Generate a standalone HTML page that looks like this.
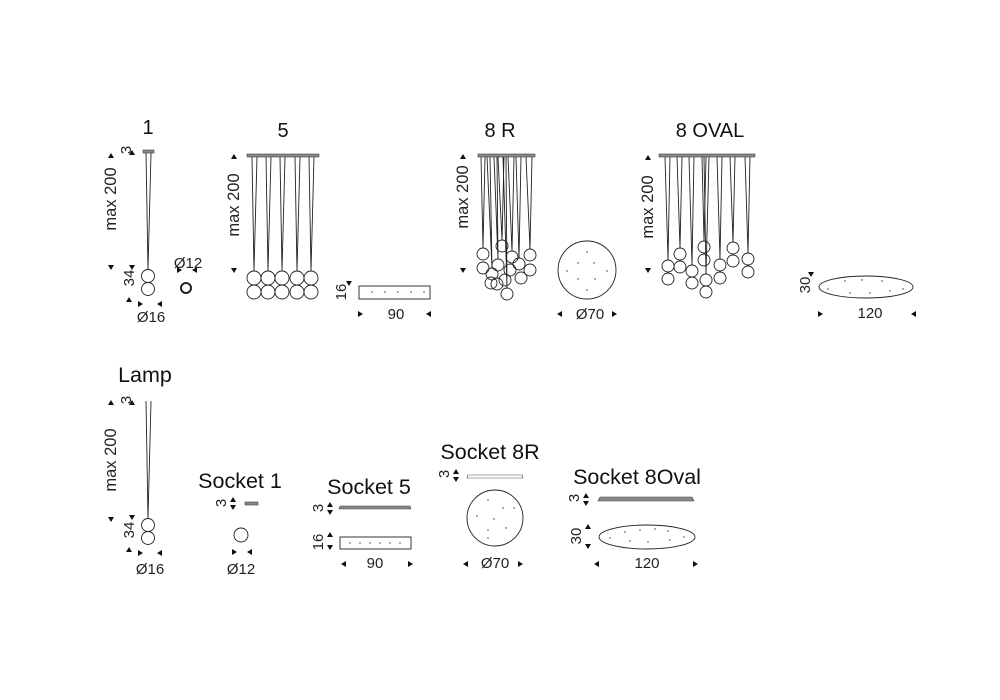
<!DOCTYPE html>
<html><head><meta charset="utf-8"><style>
html,body{margin:0;padding:0;background:#fff;}
svg{display:block;font-family:"Liberation Sans",sans-serif;}
</style></head><body>
<svg width="1000" height="700" viewBox="0 0 1000 700" xmlns="http://www.w3.org/2000/svg">
<rect width="1000" height="700" fill="#fff"/>
<g fill="#111" font-size="20" text-anchor="middle">
<text x="148" y="134">1</text>
<text x="283" y="137">5</text>
<text x="500" y="137">8 R</text>
<text x="710" y="137">8 OVAL</text>
</g>
<g fill="#111" font-size="21.5" text-anchor="middle">
<text x="145" y="382">Lamp</text>
<text x="240" y="488">Socket 1</text>
<text x="369" y="494">Socket 5</text>
<text x="490" y="459">Socket 8R</text>
<text x="637" y="484">Socket 8Oval</text>
</g>
<g fill="#222" font-size="16.5" text-anchor="middle">
<text transform="translate(116,199) rotate(-90)">max 200</text>
<text transform="translate(239,205) rotate(-90)">max 200</text>
<text transform="translate(468,197) rotate(-90)">max 200</text>
<text transform="translate(653,207) rotate(-90)">max 200</text>
<text transform="translate(116,460) rotate(-90)">max 200</text>
</g>
<g fill="#222" font-size="15" text-anchor="middle">
<text transform="translate(131,150) rotate(-90)">3</text>
<text transform="translate(134,278) rotate(-90)">34</text>
<text transform="translate(131,400) rotate(-90)">3</text>
<text transform="translate(134,530) rotate(-90)">34</text>
<text transform="translate(346,292) rotate(-90)">16</text>
<text transform="translate(810,285) rotate(-90)">30</text>
<text transform="translate(226,503) rotate(-90)">3</text>
<text transform="translate(323,508) rotate(-90)">3</text>
<text transform="translate(323,542) rotate(-90)">16</text>
<text transform="translate(449,474) rotate(-90)">3</text>
<text transform="translate(579,498) rotate(-90)">3</text>
<text transform="translate(581,536) rotate(-90)">30</text>
<text x="151" y="322">Ø16</text>
<text x="188" y="268">Ø12</text>
<text x="396" y="319">90</text>
<text x="590" y="319">Ø70</text>
<text x="870" y="318">120</text>
<text x="150" y="574">Ø16</text>
<text x="241" y="574">Ø12</text>
<text x="375" y="568">90</text>
<text x="495" y="568">Ø70</text>
<text x="647" y="568">120</text>
</g>
<!-- arrows -->
<g fill="#111">
<path d="M108,158 l3,-5 l3,5z M108,265 l3,5 l3,-5z"/>
<path d="M231,159 l3,-5 l3,5z M231,268 l3,5 l3,-5z"/>
<path d="M460,159 l3,-5 l3,5z M460,268 l3,5 l3,-5z"/>
<path d="M645,160 l3,-5 l3,5z M645,268 l3,5 l3,-5z"/>
<path d="M108,405 l3,-5 l3,5z M108,517 l3,5 l3,-5z"/>
<path d="M129,155 l3,-5 l3,5z M129,265 l3,5 l3,-5z M126,302 l3,-5 l3,5z"/>
<path d="M129,405 l3,-5 l3,5z M129,515 l3,5 l3,-5z M126,552 l3,-5 l3,5z"/>
<path d="M138,301 l5,3 l-5,3z M162,301 l-5,3 l5,3z M138,550 l5,3 l-5,3z M162,550 l-5,3 l5,3z"/>
<path d="M177,267 l5,3 l-5,3z M197,267 l-5,3 l5,3z M232,549 l5,3 l-5,3z M252,549 l-5,3 l5,3z"/>
<path d="M358,311 l5,3 l-5,3z M431,311 l-5,3 l5,3z M346,281 l3,5 l3,-5z"/>
<path d="M562,311 l-5,3 l5,3z M612,311 l5,3 l-5,3z M468,561 l-5,3 l5,3z M518,561 l5,3 l-5,3z"/>
<path d="M818,311 l5,3 l-5,3z M916,311 l-5,3 l5,3z M808,272 l3,5 l3,-5z"/>
<path d="M346,561 l-5,3 l5,3z M408,561 l5,3 l-5,3z M599,561 l-5,3 l5,3z M693,561 l5,3 l-5,3z"/>
<path d="M230,502 l3,-5 l3,5z M230,505 l3,5 l3,-5z M327,507 l3,-5 l3,5z M327,510 l3,5 l3,-5z M327,537 l3,-5 l3,5z M327,545 l3,5 l3,-5z"/>
<path d="M453,474 l3,-5 l3,5z M453,477 l3,5 l3,-5z M583,498 l3,-5 l3,5z M583,501 l3,5 l3,-5z M585,529 l3,-5 l3,5z M585,544 l3,5 l3,-5z"/>
</g>
<!-- canopies -->
<g fill="#888" stroke="#444" stroke-width="0.6">
<rect x="143" y="150" width="11" height="3"/>
<rect x="247" y="154" width="72" height="3"/>
<rect x="478" y="154" width="57" height="3"/>
<rect x="659" y="154" width="96" height="3"/>
<rect x="245" y="502" width="13" height="3"/>
<path d="M340,506 L410,506 L411,509 L339,509z"/>
<path d="M468,475 L522,475 L523,478 L467,478z" fill="#fff"/>
<path d="M600,497 L692,497 L694,501 L598,501z"/>
</g>
<g fill="none" stroke="#222" stroke-width="0.9">
<polyline points="146,153 148,270 151,153"/>
<circle cx="148" cy="276" r="6.5"/><circle cx="148" cy="289" r="6.5"/>
<circle cx="186" cy="288" r="5" stroke-width="2"/>
<polyline points="252,157 254,271 257,157"/>
<polyline points="266,157 268,271 271,157"/>
<polyline points="280,157 282,271 285,157"/>
<polyline points="295,157 297,271 300,157"/>
<polyline points="309,157 311,271 314,157"/>
<circle cx="254" cy="278" r="7"/><circle cx="268" cy="278" r="7"/><circle cx="282" cy="278" r="7"/><circle cx="297" cy="278" r="7"/><circle cx="311" cy="278" r="7"/>
<circle cx="254" cy="292" r="7"/><circle cx="268" cy="292" r="7"/><circle cx="282" cy="292" r="7"/><circle cx="297" cy="292" r="7"/><circle cx="311" cy="292" r="7"/>
<rect x="359" y="286" width="71" height="13"/>
<polyline points="481,157 483,248 485,157"/>
<polyline points="498,157 502,240 504,157"/>
<polyline points="508,157 512,251 514,157"/>
<polyline points="526,157 530,249 532,157"/>
<polyline points="487,157 492,268 490,157"/>
<polyline points="494,157 498,259 497,157"/>
<polyline points="516,157 519,258 521,157"/>
<polyline points="503,157 507,288 506,157"/>
<circle cx="483" cy="254" r="6"/><circle cx="502" cy="246" r="6"/><circle cx="512" cy="257" r="6"/><circle cx="530" cy="255" r="6"/>
<circle cx="483" cy="268" r="6"/><circle cx="498" cy="265" r="6"/><circle cx="519" cy="264" r="6"/><circle cx="530" cy="270" r="6"/>
<circle cx="492" cy="274" r="6"/><circle cx="510" cy="270" r="6"/><circle cx="521" cy="278" r="6"/><circle cx="497" cy="284" r="6"/>
<circle cx="505" cy="280" r="6"/><circle cx="507" cy="294" r="6"/><circle cx="491" cy="283" r="6"/>
<circle cx="587" cy="270" r="29"/>
<polyline points="665,157 668,260 670,157"/>
<polyline points="677,157 680,248 682,157"/>
<polyline points="689,157 692,265 694,157"/>
<polyline points="702,157 704,241 706,157"/>
<polyline points="704,157 706,274 709,157"/>
<polyline points="717,157 720,259 722,157"/>
<polyline points="730,157 733,242 735,157"/>
<polyline points="745,157 748,253 750,157"/>
<circle cx="668" cy="266" r="6"/><circle cx="668" cy="279" r="6"/>
<circle cx="680" cy="254" r="6"/><circle cx="680" cy="267" r="6"/>
<circle cx="692" cy="271" r="6"/><circle cx="692" cy="283" r="6"/>
<circle cx="704" cy="247" r="6"/><circle cx="704" cy="260" r="6"/>
<circle cx="706" cy="280" r="6"/><circle cx="706" cy="292" r="6"/>
<circle cx="720" cy="265" r="6"/><circle cx="720" cy="278" r="6"/>
<circle cx="733" cy="248" r="6"/><circle cx="733" cy="261" r="6"/>
<circle cx="748" cy="259" r="6"/><circle cx="748" cy="272" r="6"/>
<ellipse cx="866" cy="287" rx="47" ry="11"/>
<polyline points="146,401 148,519 151,401"/>
<circle cx="148" cy="525" r="6.5"/><circle cx="148" cy="538" r="6.5"/>
<circle cx="241" cy="535" r="7"/>
<rect x="340" y="537" width="71" height="12"/>
<circle cx="495" cy="518" r="28"/>
<ellipse cx="647" cy="537" rx="48" ry="12"/>
</g>
<g fill="#333">
<circle cx="372" cy="292" r="0.7"/><circle cx="385" cy="292" r="0.7"/><circle cx="398" cy="292" r="0.7"/><circle cx="411" cy="292" r="0.7"/><circle cx="424" cy="292" r="0.7"/>
<circle cx="350" cy="543" r="0.7"/><circle cx="360" cy="543" r="0.7"/><circle cx="370" cy="543" r="0.7"/><circle cx="380" cy="543" r="0.7"/><circle cx="390" cy="543" r="0.7"/><circle cx="400" cy="543" r="0.7"/>
<circle cx="587" cy="252" r="0.7"/><circle cx="578" cy="263" r="0.7"/><circle cx="594" cy="263" r="0.7"/><circle cx="567" cy="271" r="0.7"/><circle cx="607" cy="271" r="0.7"/><circle cx="578" cy="279" r="0.7"/><circle cx="595" cy="279" r="0.7"/><circle cx="587" cy="290" r="0.7"/>
<circle cx="488" cy="500" r="0.7"/><circle cx="503" cy="508" r="0.7"/><circle cx="514" cy="508" r="0.7"/><circle cx="477" cy="516" r="0.7"/><circle cx="494" cy="519" r="0.7"/><circle cx="488" cy="530" r="0.7"/><circle cx="506" cy="528" r="0.7"/><circle cx="488" cy="538" r="0.7"/>
<circle cx="845" cy="281" r="0.7"/><circle cx="862" cy="280" r="0.7"/><circle cx="882" cy="281" r="0.7"/><circle cx="828" cy="289" r="0.7"/><circle cx="850" cy="293" r="0.7"/><circle cx="870" cy="293" r="0.7"/><circle cx="890" cy="291" r="0.7"/><circle cx="903" cy="289" r="0.7"/>
<circle cx="610" cy="538" r="0.7"/><circle cx="625" cy="532" r="0.7"/><circle cx="640" cy="530" r="0.7"/><circle cx="655" cy="529" r="0.7"/><circle cx="668" cy="531" r="0.7"/><circle cx="630" cy="541" r="0.7"/><circle cx="648" cy="542" r="0.7"/><circle cx="670" cy="540" r="0.7"/><circle cx="684" cy="537" r="0.7"/>
</g>
</svg>
</body></html>
